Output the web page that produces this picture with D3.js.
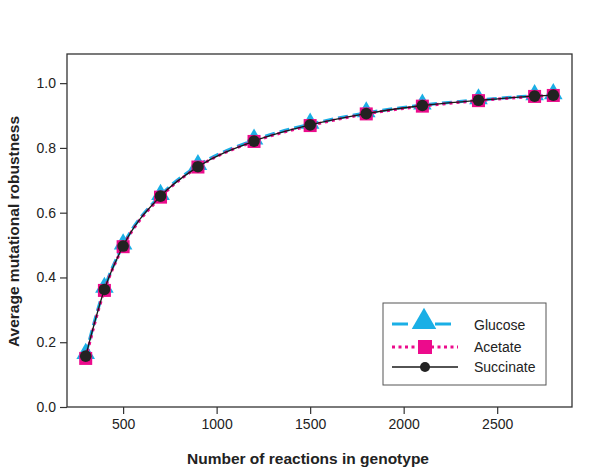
<!DOCTYPE html>
<html><head><meta charset="utf-8">
<script src="https://cdn.jsdelivr.net/npm/d3@7"></script>
<style>body{margin:0;background:#fff;} text{font-family:"Liberation Sans",Arial,sans-serif;}</style>
</head><body>
<svg id="c" width="600" height="471"></svg>
<script>
const reactions = [300, 400, 500, 700, 900, 1200, 1500, 1800, 2100, 2400, 2700, 2800];
const glucose   = [0.162, 0.366, 0.500, 0.653, 0.745, 0.824, 0.873, 0.908, 0.932, 0.948, 0.961, 0.964];
const acetate   = [0.150, 0.360, 0.495, 0.648, 0.741, 0.820, 0.869, 0.905, 0.929, 0.946, 0.959, 0.962];
const succinate = [0.157, 0.363, 0.497, 0.651, 0.742, 0.821, 0.871, 0.906, 0.931, 0.947, 0.960, 0.963];
const xTicks = [500, 1000, 1500, 2000, 2500];
const yTicks = [0.0, 0.2, 0.4, 0.6, 0.8, 1.0];
const seriesNames = ["Glucose", "Acetate", "Succinate"];

const svg = d3.select("#c");
const L = 67, R = 572, T = 54, B = 407;
const x = d3.scaleLinear().domain([200, 2900]).range([L, R]);
const y = d3.scaleLinear().domain([0, 1.09]).range([B, T]);

svg.append("rect").attr("x", L).attr("y", T).attr("width", R - L).attr("height", B - T)
  .attr("fill", "none").attr("stroke", "#333").attr("stroke-width", 1.3);

const xa = svg.append("g").attr("transform", `translate(0,${B})`)
  .call(d3.axisBottom(x).tickValues(xTicks).tickSize(7).tickPadding(5).tickFormat(d3.format("d")));
const ya = svg.append("g").attr("transform", `translate(${L},0)`)
  .call(d3.axisLeft(y).tickValues(yTicks).tickSize(7).tickPadding(4).tickFormat(d3.format(".1f")));
[xa, ya].forEach(a => {
  a.select(".domain").remove();
  a.selectAll("line").attr("stroke", "#333").attr("stroke-width", 1.2);
  a.selectAll("text").attr("fill", "#222").style("font-size", "14px").style("font-family", "Liberation Sans, Arial, sans-serif");
});

svg.append("text").attr("x", 308).attr("y", 464).attr("text-anchor", "middle")
  .style("font-size", "15.5px").style("font-weight", "bold").attr("fill", "#222")
  .text("Number of reactions in genotype");
svg.append("text").attr("transform", `translate(19,${(T + B) / 2 + 1}) rotate(-90)`).attr("text-anchor", "middle")
  .style("font-size", "15.5px").style("font-weight", "bold").attr("fill", "#222")
  .text("Average mutational robustness");

const line = d3.line().x(d => x(d[0])).y(d => y(d[1])).curve(d3.curveMonotoneX);
const gData = reactions.map((r, i) => [r, glucose[i]]);
const aData = reactions.map((r, i) => [r, acetate[i]]);
const sData = reactions.map((r, i) => [r, succinate[i]]);

const cyan = "#1AAFE6", mag = "#EC0B8C", blk = "#1a1a1a";
const tri = d3.symbol().type(d3.symbolTriangle);

// glucose
svg.append("path").datum(gData).attr("d", line).attr("fill", "none").attr("stroke", cyan)
  .attr("stroke-width", 3.2).attr("stroke-dasharray", "10,5");
svg.selectAll(".gm").data(gData).enter().append("path")
  .attr("d", tri.size(150)()).attr("transform", d => `translate(${x(d[0])},${y(d[1]) - 1})`).attr("fill", cyan);
// acetate
svg.append("path").datum(aData).attr("d", line).attr("fill", "none").attr("stroke", mag)
  .attr("stroke-width", 3).attr("stroke-dasharray", "3,4");
svg.selectAll(".am").data(aData).enter().append("rect")
  .attr("x", d => x(d[0]) - 6.5).attr("y", d => y(d[1]) - 6.5).attr("width", 13).attr("height", 13).attr("fill", mag);
// succinate
svg.append("path").datum(sData).attr("d", line).attr("fill", "none").attr("stroke", blk).attr("stroke-width", 1.3);
svg.selectAll(".sm").data(sData).enter().append("circle")
  .attr("cx", d => x(d[0])).attr("cy", d => y(d[1])).attr("r", 5.8).attr("fill", "#222");

// legend
const lg = svg.append("g");
lg.append("rect").attr("x", 383).attr("y", 303).attr("width", 163).attr("height", 82)
  .attr("fill", "#fff").attr("stroke", "#555").attr("stroke-width", 1);
const rows = [325, 347, 367];
const lx1 = 392, lx2 = 458, lm = 425;
lg.append("line").attr("x1", lx1).attr("x2", lx2 - 6).attr("y1", rows[0] - 1).attr("y2", rows[0] - 1)
  .attr("stroke", cyan).attr("stroke-width", 3.2).attr("stroke-dasharray", "16,27,16");
lg.append("path").attr("d", tri.size(260)()).attr("transform", `translate(${lm - 1},${rows[0] - 3})`).attr("fill", cyan);
lg.append("line").attr("x1", lx1).attr("x2", lx2).attr("y1", rows[1]).attr("y2", rows[1])
  .attr("stroke", mag).attr("stroke-width", 3).attr("stroke-dasharray", "3,3.5");
lg.append("rect").attr("x", lm - 7).attr("y", rows[1] - 7).attr("width", 14).attr("height", 14).attr("fill", mag);
lg.append("line").attr("x1", lx1).attr("x2", lx2).attr("y1", rows[2]).attr("y2", rows[2])
  .attr("stroke", blk).attr("stroke-width", 1.3);
lg.append("circle").attr("cx", lm).attr("cy", rows[2]).attr("r", 5).attr("fill", "#222");
seriesNames.forEach((n, i) => {
  lg.append("text").attr("x", 474).attr("y", rows[i] + 5).style("font-size", "14px").attr("fill", "#222").text(n);
});
</script>
</body></html>
